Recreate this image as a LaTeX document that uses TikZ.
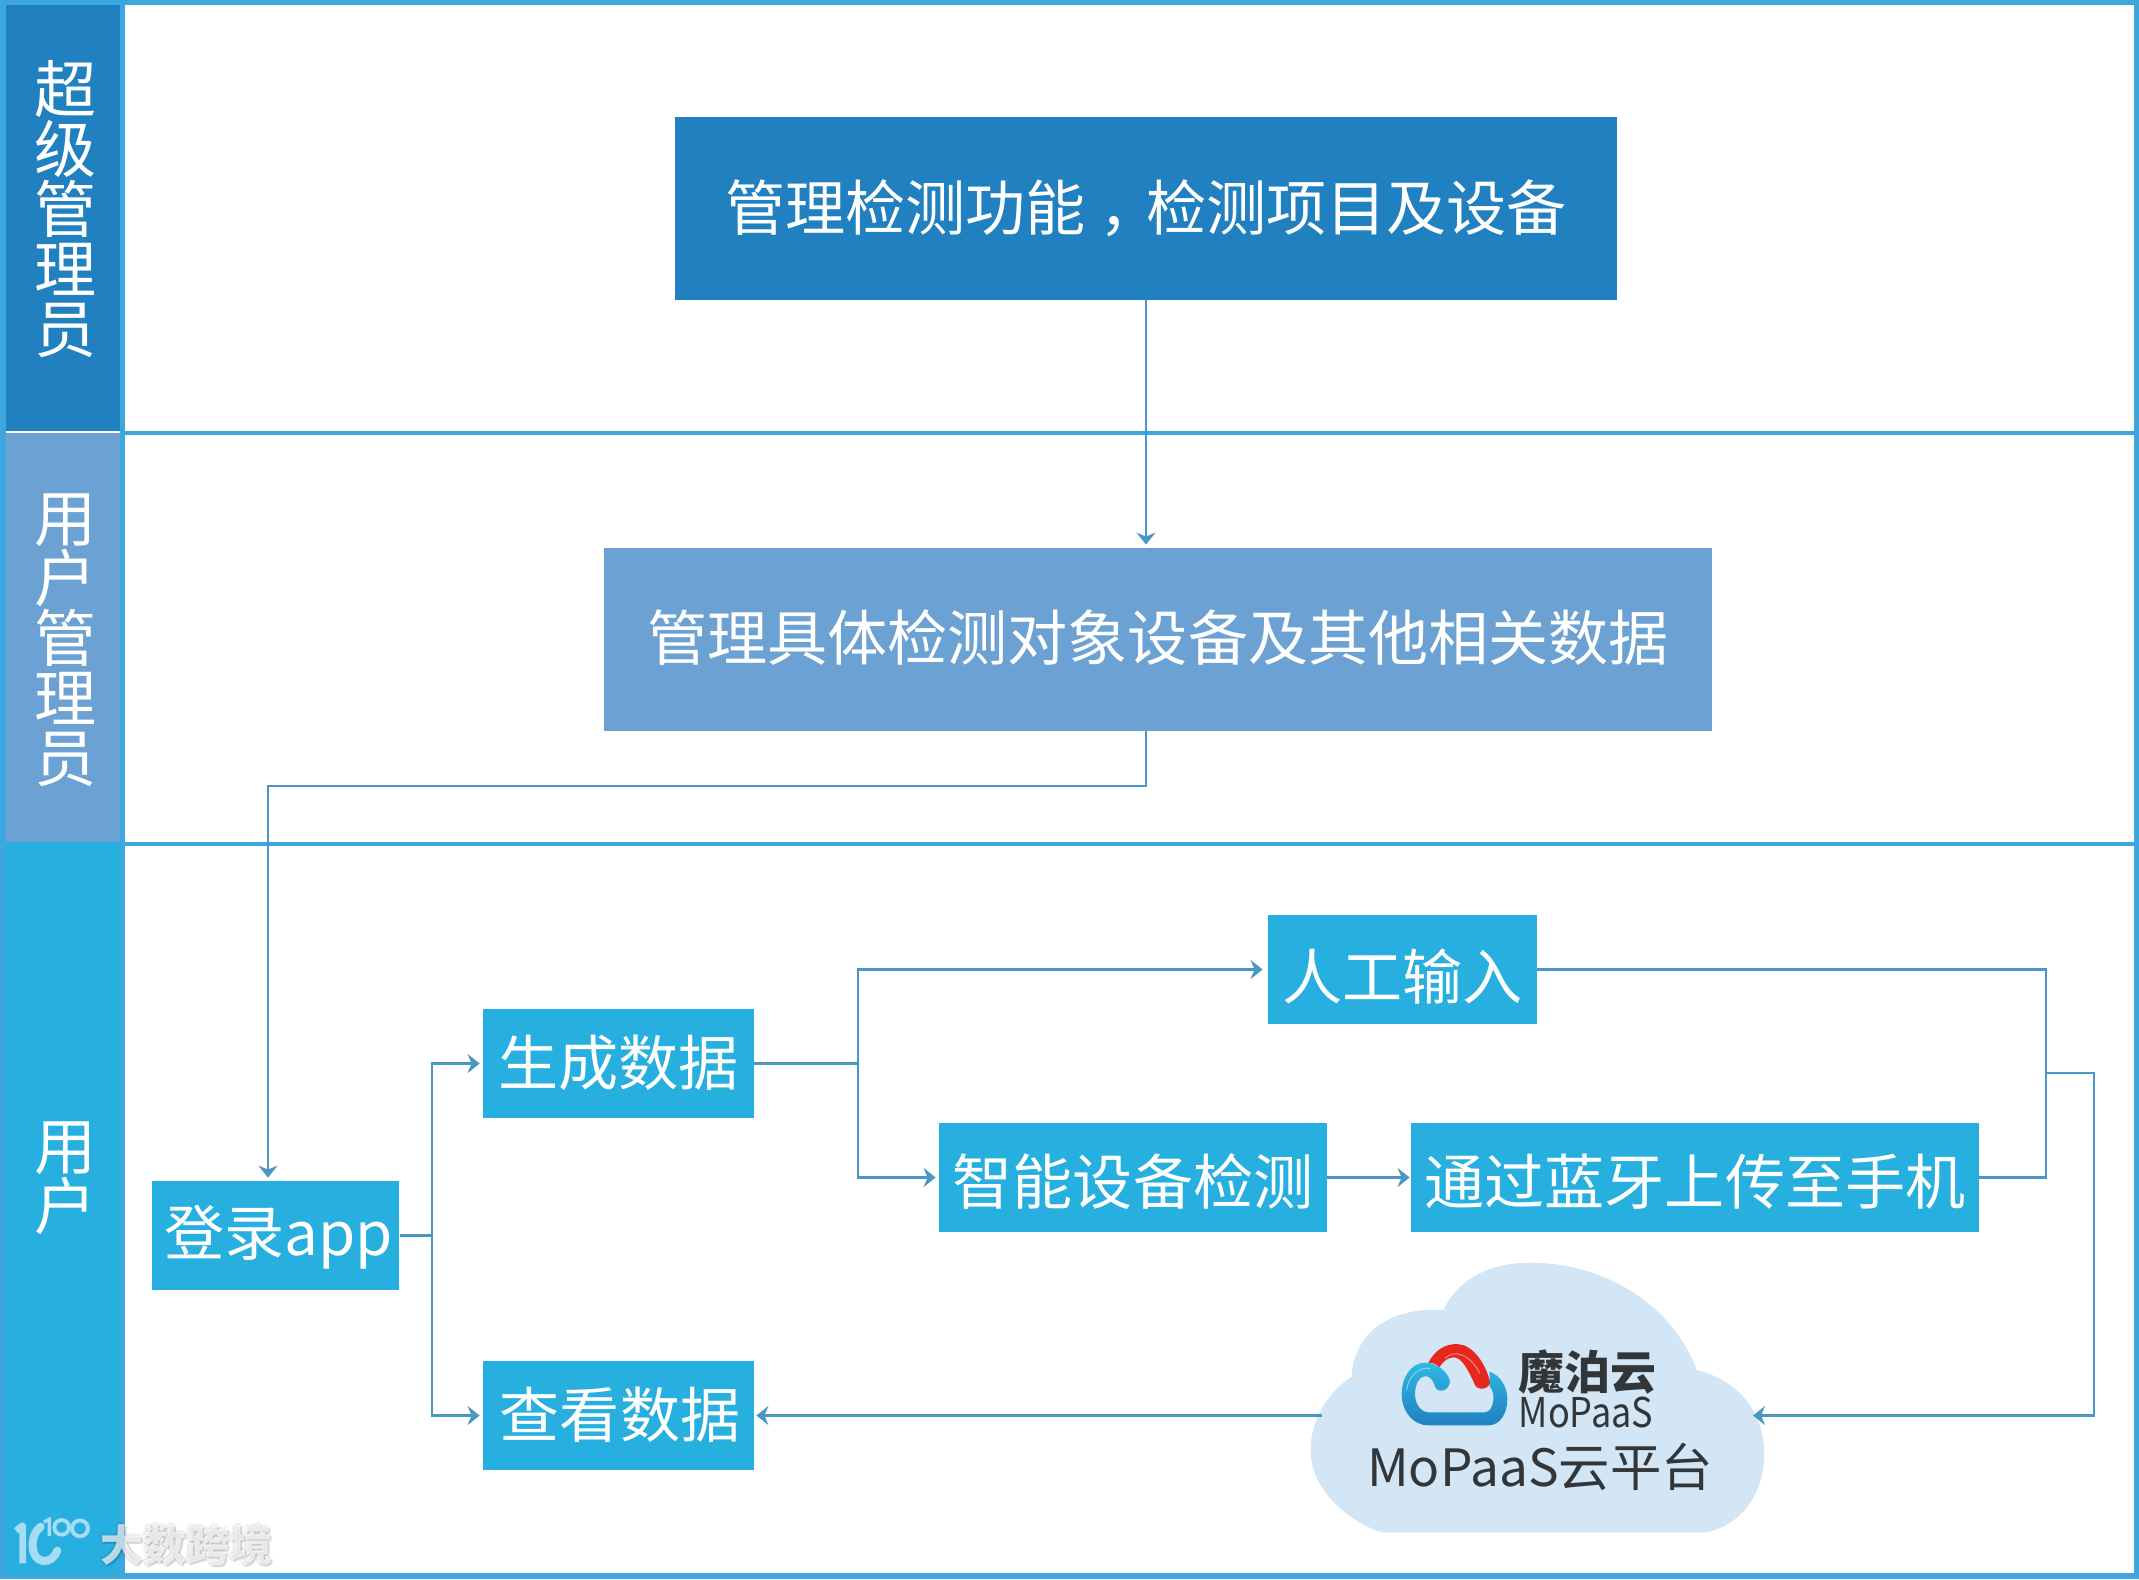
\documentclass[tikz,border=0pt]{standalone}
\usepackage{fontspec}
\setmainfont{Noto Sans CJK SC}
\usetikzlibrary{arrows.meta}
\lineskiplimit=-100pt
\newcommand{\nudged}[2]{\raisebox{#1}[26.5pt][3.6pt]{#2}}
\definecolor{cborder}{HTML}{3BA7DE}
\definecolor{cdark}{HTML}{2180C0}
\definecolor{cmid}{HTML}{6BA2D3}
\definecolor{clight}{HTML}{27AFE0}
\definecolor{cline}{HTML}{4A96C4}
\definecolor{ccloud}{HTML}{D2E6F5}
\definecolor{ctext}{HTML}{333638}
\definecolor{cmark}{HTML}{A6DDF3}
\definecolor{cred}{HTML}{E6281E}
\tikzset{
  boxnode/.style={rectangle,inner sep=0pt,text=white,font=\fontsize{30.05}{36}\selectfont},
  lanefill/.style={rectangle,inner sep=0pt,minimum width=57pt},
  lanetext/.style={inner sep=0pt,text=white,align=center,font=\fontsize{31}{30}\selectfont},
  conn/.style={draw=cline,line width=1.1pt},
  connarrow/.style={conn,-{Stealth[length=6pt,width=9.5pt,inset=2pt]},shorten >=1.5pt},
  framerule/.style={fill=cborder,draw=none},
  cloudtext/.style={text=ctext,inner sep=0pt},
}
\begin{document}
\begin{tikzpicture}[x=0.5pt,y=-0.5pt]
\useasboundingbox (0,0) rectangle (2139,1579);
\fill[white] (0,0) rectangle (2139,1579);
% lanes
\node[lanefill,fill=cdark,minimum height=213pt] (laneA) at (63,218) {};
\node[lanefill,fill=cmid,minimum height=205pt] (laneB) at (63,638) {};
\node[lanefill,fill=clight,minimum height=366pt] (laneC) at (63,1208) {};
% frame
\fill[framerule] (0,0) rectangle (2139,5);
\fill[framerule] (0,1573) rectangle (2139,1579);
\fill[framerule] (0,0) rectangle (6,1579);
\fill[framerule] (2134,0) rectangle (2139,1579);
\fill[framerule] (120,0) rectangle (125,1579);
\fill[framerule] (120,431) rectangle (2139,435);
\fill[framerule] (120,842) rectangle (2139,846);
% lane labels
\node[lanetext] (labA) at (65,209) {超\\级\\管\\理\\员};
\node[lanetext] (labB) at (65,640) {用\\户\\管\\理\\员};
\node[lanetext] (labC) at (65,1178) {用\\户};
% boxes
\node[boxnode,fill=cdark,minimum width=471pt,minimum height=91.5pt] (boxA) at (1146,208.5) {\nudged{.6pt}{管理检测功能\hspace{.22em}，\hspace{-.22em}检测项目及设备}};
\node[boxnode,fill=cmid,minimum width=554pt,minimum height=91.5pt] (boxB) at (1158,639.5) {\nudged{1pt}{管理具体检测对象设备及其他相关数据}};
\node[boxnode,fill=clight,minimum width=123.5pt,minimum height=54.5pt] (login) at (275.75,1235.5) {\nudged{1.5pt}{\hspace{3pt}登录app}};
\node[boxnode,fill=clight,minimum width=135.5pt,minimum height=54.5pt] (gen) at (618.5,1063.5) {\nudged{.7pt}{生成数据}};
\node[boxnode,fill=clight,minimum width=135.5pt,minimum height=54.5pt] (kan) at (618.5,1415.5) {\nudged{.7pt}{\hspace{1.5pt}查看数据}};
\node[boxnode,fill=clight,minimum width=134.5pt,minimum height=54.5pt] (manual) at (1402.5,969.5) {\nudged{-3.4pt}{人工输入}};
\node[boxnode,fill=clight,minimum width=194pt,minimum height=54.5pt] (smart) at (1133,1177.5) {\nudged{-2pt}{智能设备检测}};
\node[boxnode,fill=clight,minimum width=284pt,minimum height=54.5pt] (blue) at (1695,1177.5) {\nudged{-2pt}{通过蓝牙上传至手机}};
% cloud
\begin{scope}[shift={(1280,1240)},x=0.16667pt,y=-0.16667pt]
\fill[ccloud] (305,877) -- (1275,877) .. controls (1380,860) and (1455,760) .. (1452,640)
  .. controls (1452,510) and (1370,420) .. (1250,390)
  .. controls (1180,200) and (980,68) .. (750,68)
  .. controls (620,68) and (530,125) .. (490,210)
  .. controls (330,200) and (220,280) .. (215,410)
  .. controls (140,460) and (92,540) .. (92,630)
  .. controls (92,760) and (220,850) .. (305,877) -- cycle;
\fill[cred] (445,368) .. controls (465,330) and (495,312) .. (530,312)
  .. controls (575,312) and (615,365) .. (630,425)
  .. controls (632,445) and (595,455) .. (585,435)
  .. controls (565,390) and (545,352) .. (522,352)
  .. controls (505,352) and (490,362) .. (478,382)
  .. controls (470,372) and (458,368) .. (445,368) -- cycle;
\path[top color=cborder!80!cyan,bottom color=cdark] (510,425) .. controls (505,395) and (470,368) .. (435,368)
  .. controls (395,368) and (365,410) .. (365,462)
  .. controls (365,515) and (400,556) .. (445,556) -- (625,556)
  .. controls (660,556) and (682,520) .. (682,478)
  .. controls (682,440) and (660,405) .. (628,395) -- (630,440)
  .. controls (638,450) and (642,465) .. (640,480)
  .. controls (638,500) and (630,515) .. (615,517) -- (445,517)
  .. controls (420,515) and (405,490) .. (405,462)
  .. controls (405,430) and (420,408) .. (437,408)
  .. controls (450,408) and (462,425) .. (465,440)
  .. controls (470,458) and (505,458) .. (510,425) -- cycle;
\draw[white,opacity=.45,line width=.5pt] (380,450) .. controls (385,405) and (420,380) .. (450,385);
\draw[white,opacity=.45,line width=.5pt] (495,355) .. controls (525,325) and (570,345) .. (600,400);
\node[cloudtext,font=\fontsize{23}{26}\bfseries\selectfont] (logoCn) at (922,395) {魔泊云};
\node[cloudtext,font=\fontsize{20.5}{24}\selectfont,xscale=.88] (logoEn) at (918,518) {MoPaaS};
\node[cloudtext,font=\fontsize{25.7}{30}\selectfont] (cloudLab) at (780,680) {MoPaaS云平台};
\end{scope}
% connector way-points
\coordinate (turnLogin) at (268,786);
\coordinate (forkA) at (432,1235.5);
\coordinate (forkB) at (858,1063.5);
\coordinate (joinA) at (2046,1073);
\coordinate (joinB) at (2094,1073);
\coordinate (cloudR) at (1753,1415.5);
\coordinate (cloudL) at (1322,1415.5);
% connectors
\draw[connarrow] (boxA.south) -- (boxA.south |- boxB.north);
\draw[connarrow] (boxA.south |- boxB.south) -- (boxA.south |- turnLogin) -- (turnLogin) -- (turnLogin |- login.north);
\draw[conn] (login.east) -- (forkA);
\draw[connarrow] (forkA) -- (forkA |- gen.west) -- (gen.west);
\draw[connarrow] (forkA) -- (forkA |- kan.west) -- (kan.west);
\draw[conn] (gen.east) -- (forkB);
\draw[connarrow,shorten >=2.5pt] (forkB) -- (forkB |- manual.west) -- (manual.west);
\draw[connarrow] (forkB) -- (forkB |- smart.west) -- (smart.west);
\draw[connarrow,shorten >=.5pt] (smart.east) -- (blue.west);
\draw[conn] (manual.east) -- (joinA |- manual.east) -- (joinA |- blue.east) -- (blue.east);
\draw[connarrow,shorten >=0pt] (joinA) -- (joinB) -- (joinB |- cloudR) -- (cloudR);
\draw[connarrow,shorten >=1pt] (cloudL) -- (kan.east);
% watermark
\begin{scope}[shift={(0,1480)},x=0.16667pt,y=-0.16667pt]
\draw[cmark,line width=3.2pt,line join=round] (48,152) -- (68,136) -- (68,250);
\draw[cmark,line width=4pt,line cap=round] (122,140) .. controls (88,165) and (88,238) .. (130,243) .. controls (150,245) and (165,230) .. (172,212);
\draw[cmark,line width=1.6pt] (132,126) -- (148,118) -- (148,168);
\draw[cmark,line width=1.9pt] (185,142) circle[radius=22];
\draw[cmark,line width=1.9pt] (240,145) circle[radius=24];
\foreach \dx/\dy/\op in {-6/0/.06,6/0/.06,0/-6/.06,0/6/.06,6/6/.10}{
  \node[text=black,opacity=\op,font=\fontsize{21.5}{26}\bfseries\selectfont,inner sep=0pt] at ({560+\dx},{195+\dy}) {大数跨境};
}
\node[text=white,opacity=.7,font=\fontsize{21.5}{26}\bfseries\selectfont,inner sep=0pt] (mark) at (560,195) {大数跨境};
\end{scope}
\end{tikzpicture}
\end{document}
